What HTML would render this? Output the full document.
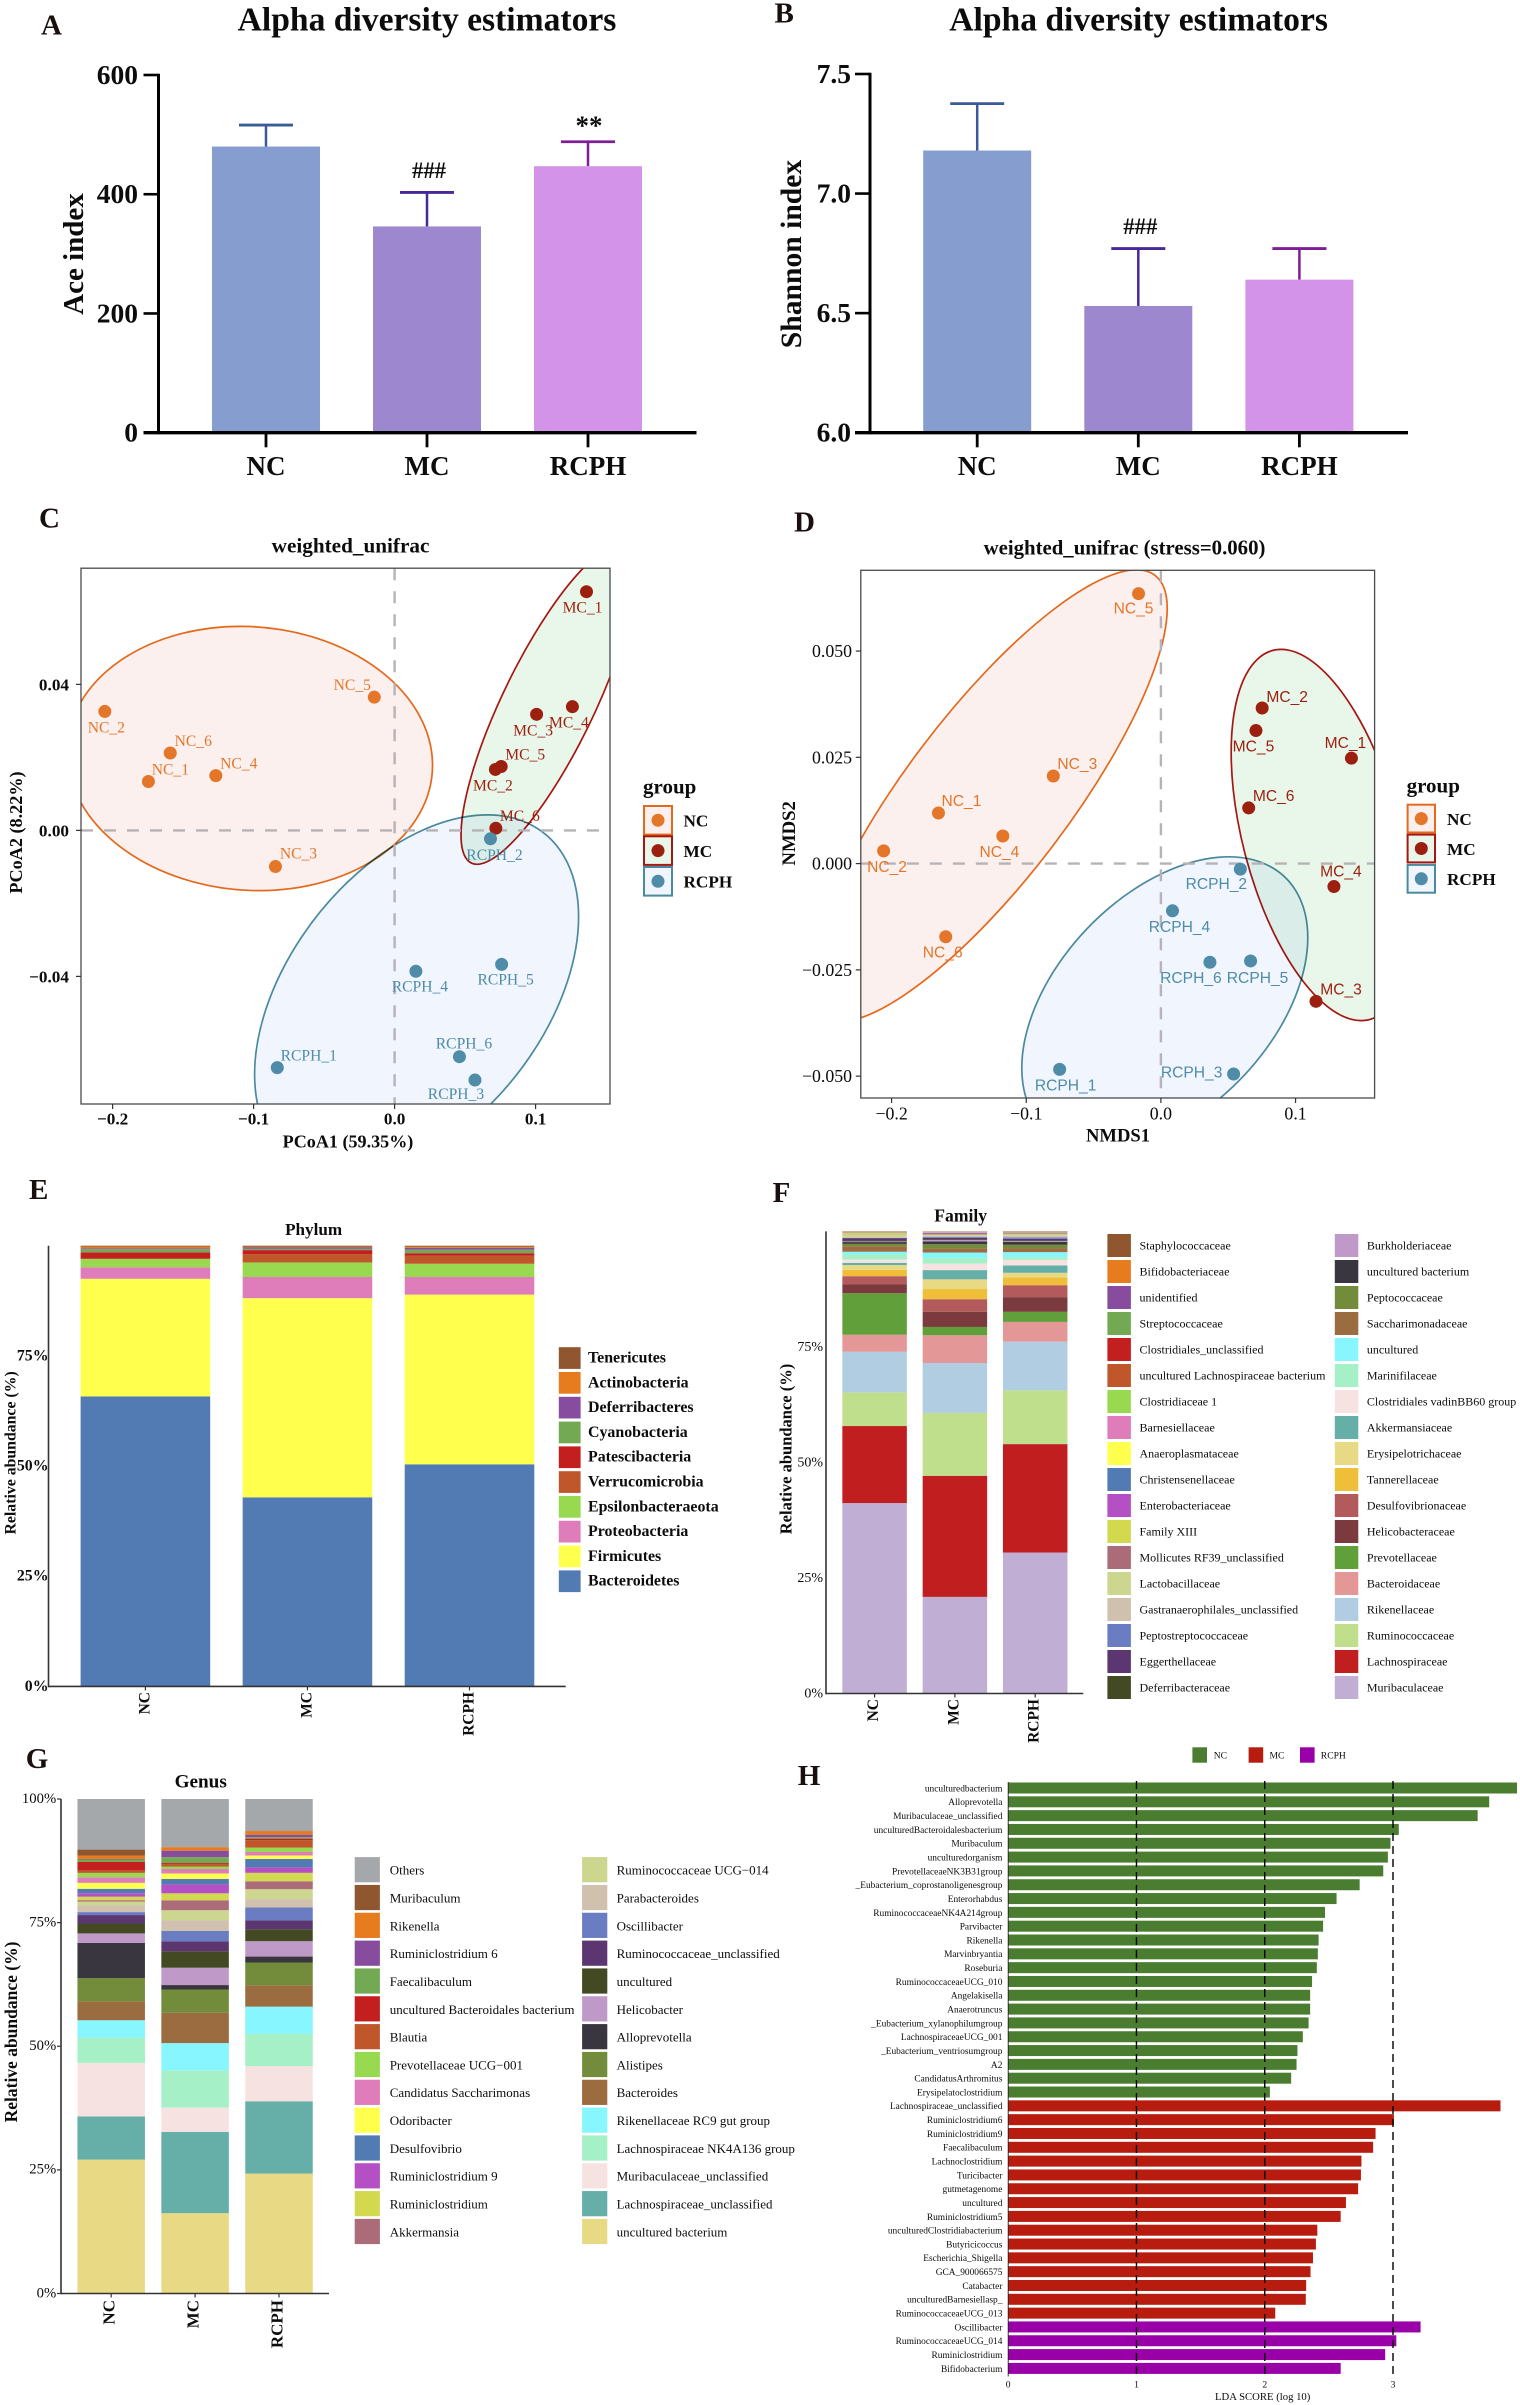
<!DOCTYPE html>
<html lang="en">
<head>
<meta charset="utf-8">
<title>Alpha diversity, beta diversity and taxonomic composition</title>
<style>
html,body{margin:0;padding:0;background:#fff;}
svg{display:block;background:#fff;}
text{font-family:"Liberation Serif",serif;fill:#0c0c0c;}
.b{font-weight:700;}
.sans{font-family:"Liberation Sans",sans-serif;}
.letter{font-weight:700;font-size:29px;fill:#1a0f0f;}
.mult{mix-blend-mode:multiply;}
</style>
</head>
<body>
<svg id="fig" xmlns="http://www.w3.org/2000/svg" width="1520" height="2405" viewBox="0 0 1520 2405">
<defs>
<clipPath id="clip-c"><rect x="81" y="568.2" width="529" height="535.8"/></clipPath>
<clipPath id="clip-d"><rect x="860.8" y="570.3" width="513.8" height="527.7"/></clipPath>
</defs>

<g id="panel-a">
<text class="letter" x="41" y="34.3">A</text>
<text class="b" x="427" y="30.7" font-size="33.6" text-anchor="middle">Alpha diversity estimators</text>
<text class="b" x="83" y="254" font-size="29" text-anchor="middle" transform="rotate(-90 83 254)">Ace index</text>
</g>
<g id="panel-b">
<text class="letter" x="774.5" y="22.7">B</text>
<text class="b" x="1138.6" y="30.7" font-size="33.6" text-anchor="middle">Alpha diversity estimators</text>
<text class="b" x="801" y="254" font-size="29.6" text-anchor="middle" transform="rotate(-90 801 254)">Shannon index</text>
</g>
<g id="panel-c">
<text class="letter" x="39" y="527.4">C</text>
<text class="b" x="350.5" y="552.6" font-size="21.2" text-anchor="middle">weighted_unifrac</text>
<text class="b" x="348" y="1147.3" font-size="18.1" text-anchor="middle">PCoA1 (59.35%)</text>
<text class="b" x="22" y="832.5" font-size="18.2" text-anchor="middle" transform="rotate(-90 22 832.5)">PCoA2 (8.22%)</text>
<text class="b" x="643" y="793.3" font-size="21">group</text>
</g>
<g id="panel-d">
<text class="letter" x="794" y="531.6">D</text>
<text class="b" x="1124.5" y="554.7" font-size="20.8" text-anchor="middle">weighted_unifrac (stress=0.060)</text>
<text class="b" x="1118" y="1141.4" font-size="18.6" text-anchor="middle">NMDS1</text>
<text class="b" x="795" y="833.3" font-size="18.7" text-anchor="middle" transform="rotate(-90 795 833.3)">NMDS2</text>
<text class="b" x="1406.6" y="792.5" font-size="21">group</text>
</g>
<g id="panel-e">
<text class="letter" x="29" y="1199">E</text>
<text class="b" x="313.6" y="1235" font-size="17.1" text-anchor="middle">Phylum</text>
<text class="b" x="15.5" y="1452.9" font-size="15.8" text-anchor="middle" transform="rotate(-90 15.5 1452.9)">Relative abundance (%)</text>
</g>
<g id="panel-f">
<text class="letter" x="772.6" y="1202">F</text>
<text class="b" x="960.7" y="1221.4" font-size="17.6" text-anchor="middle">Family</text>
<text class="b" x="791.5" y="1449" font-size="16.5" text-anchor="middle" transform="rotate(-90 791.5 1449)">Relative abundance (%)</text>
</g>
<g id="panel-g">
<text class="letter" x="25.7" y="1768">G</text>
<text class="b" x="200.7" y="1787.7" font-size="19.2" text-anchor="middle">Genus</text>
<text class="b" x="17" y="2032" font-size="17.5" text-anchor="middle" transform="rotate(-90 17 2032)">Relative abundance (%)</text>
</g>
<g id="panel-h">
<text class="letter" x="797.8" y="1785">H</text>
<text x="1262.7" y="2400" font-size="10.7" text-anchor="middle">LDA SCORE (log 10)</text>
</g>
</svg>

<script>
/* ---------- shared categories ---------- */
const groupNames = ['NC', 'MC', 'RCPH'];

/* ---------- panel A / B ---------- */
const aceMeans = [480, 346, 447];
const aceUpper = [516, 403, 488];
const aceTicks = [0, 200, 400, 600];
const aceMarks = ['', '###', '**'];
const shannonMeans = [7.18, 6.53, 6.64];
const shannonUpper = [7.376, 6.77, 6.77];
const shannonTicks = [6.0, 6.5, 7.0, 7.5];
const shannonMarks = ['', '###', ''];

/* ---------- panel C (PCoA) ---------- */
const sampleSuffix = ['1', '2', '3', '4', '5', '6'];
const pcoaXNC = [-0.1746, -0.2055, -0.0845, -0.1268, -0.0144, -0.1591];
const pcoaYNC = [0.0134, 0.0326, -0.0099, 0.0150, 0.0365, 0.0212];
const pcoaXMC = [0.1361, 0.0715, 0.1007, 0.1261, 0.0756, 0.0718];
const pcoaYMC = [0.0654, 0.0167, 0.0318, 0.0339, 0.0175, 0.0006];
const pcoaXRCPH = [-0.0832, 0.0680, 0.0570, 0.0151, 0.0759, 0.0460];
const pcoaYRCPH = [-0.0650, -0.0023, -0.0684, -0.0386, -0.0367, -0.0620];
const pcoaXTicks = [-0.2, -0.1, 0.0, 0.1];
const pcoaYTicks = [-0.04, 0.00, 0.04];
/* ellipse summary in data units: centre x, centre y, half-width, half-height, y-shift at right extreme */
const pcoaEllipseNC = [-0.1027, 0.0197, 0.1296, 0.0362, -0.00184];
const pcoaEllipseMC = [0.1088, 0.03436, 0.0617, 0.04364, 0.0356];
const pcoaEllipseRCPH = [0.0156, -0.04525, 0.1149, 0.0495, 0.0216];

/* ---------- panel D (NMDS) ---------- */
const nmdsXNC = [-0.1652, -0.2059, -0.0799, -0.1174, -0.0166, -0.1598];
const nmdsYNC = [0.0119, 0.0030, 0.0206, 0.0065, 0.0635, -0.0172];
const nmdsXMC = [0.1415, 0.0752, 0.1152, 0.1285, 0.0706, 0.0652];
const nmdsYMC = [0.0248, 0.0366, -0.0324, -0.0054, 0.0313, 0.0131];
const nmdsXRCPH = [-0.0752, 0.0590, 0.0540, 0.0086, 0.0666, 0.0364];
const nmdsYRCPH = [-0.0484, -0.0013, -0.0495, -0.0111, -0.0229, -0.0232];
const nmdsXTicks = [-0.2, -0.1, 0.0, 0.1];
const nmdsYTicks = [-0.050, -0.025, 0.000, 0.025, 0.050];
const nmdsEllipseNC = [-0.1285, 0.01594, 0.1332, 0.05317, 0.04406];
const nmdsEllipseMC = [0.119, 0.00673, 0.0668, 0.04366, -0.0194];
const nmdsEllipseRCPH = [0.00288, -0.03277, 0.1062, 0.03436, 0.01535];

/* ---------- panel E (phylum), stack order bottom to top ---------- */
const phylumNames = ['Bacteroidetes','Firmicutes','Proteobacteria','Epsilonbacteraeota','Verrucomicrobia','Patescibacteria','Cyanobacteria','Deferribacteres','Actinobacteria','Tenericutes'];
const phylumNC = [65.8, 26.7, 2.6, 1.9, 0.1, 1.4, 0.7, 0.2, 0.4, 0.2];
const phylumMC = [42.9, 45.2, 4.8, 3.3, 1.9, 0.9, 0.3, 0.3, 0.15, 0.25];
const phylumRCPH = [50.4, 38.5, 4.0, 3.0, 1.8, 0.6, 0.8, 0.4, 0.25, 0.25];
const stackTicks = ['0%', '25%', '50%', '75%', '100%'];
const stackTickValues = [0, 25, 50, 75, 100];

/* ---------- panel F (family), stack order bottom to top ---------- */
const familyNames = ['Muribaculaceae','Lachnospiraceae','Ruminococcaceae','Rikenellaceae','Bacteroidaceae','Prevotellaceae','Helicobacteraceae','Desulfovibrionaceae','Tannerellaceae','Erysipelotrichaceae','Akkermansiaceae','Clostridiales vadinBB60 group','Marinifilaceae','uncultured','Saccharimonadaceae','Peptococcaceae','uncultured bacterium','Burkholderiaceae','Deferribacteraceae','Eggerthellaceae','Peptostreptococcaceae','Gastranaerophilales_unclassified','Lactobacillaceae','Mollicutes RF39_unclassified','Family XIII','Enterobacteriaceae','Christensenellaceae','Anaeroplasmataceae','Barnesiellaceae','Clostridiaceae 1','uncultured Lachnospiraceae bacterium','Clostridiales_unclassified','Streptococcaceae','unidentified','Bifidobacteriaceae','Staphylococcaceae'];
const familyNC = [41.3,16.7,7.3,8.8,3.7,9.0,1.9,1.8,1.4,1.0,0.5,0.7,1.1,0.6,1.2,0.5,0.4,0.15,0.2,0.5,0.05,0.2,0.5,0.05,0.3,0.05,0.05,0.02,0.02,0.02,0.02,0.02,0.02,0.02,0.02,0.1];
const familyMC = [20.9,26.2,13.6,10.8,6.0,1.8,3.3,2.7,2.2,2.1,2.0,1.4,1.2,1.2,0.9,0.9,0.6,0.3,0.15,0.3,0.2,0.3,0.15,0.1,0.1,0.2,0.1,0.05,0.05,0.02,0.02,0.02,0.02,0.02,0.02,0.05];
const familyRCPH = [30.7,23.6,11.7,10.6,4.3,2.2,3.2,2.6,1.7,1.0,1.6,1.2,0.6,1.1,0.8,0.8,0.6,0.2,0.2,0.3,0.3,0.35,0.35,0.15,0.1,0.05,0.05,0.02,0.02,0.02,0.02,0.02,0.02,0.02,0.02,0.1];

/* ---------- panel G (genus), stack order bottom to top ---------- */
const genusNames = ['uncultured bacterium','Lachnospiraceae_unclassified','Muribaculaceae_unclassified','Lachnospiraceae NK4A136 group','Rikenellaceae RC9 gut group','Bacteroides','Alistipes','Alloprevotella','Helicobacter','uncultured','Ruminococcaceae_unclassified','Oscillibacter','Parabacteroides','Ruminococcaceae UCG\u2212014','Akkermansia','Ruminiclostridium','Ruminiclostridium 9','Desulfovibrio','Odoribacter','Candidatus Saccharimonas','Prevotellaceae UCG\u2212001','Blautia','uncultured Bacteroidales bacterium','Faecalibaculum','Ruminiclostridium 6','Rikenella','Muribaculum','Others'];
const genusNC = [27.0,8.7,10.8,5.1,3.5,3.8,4.7,7.1,1.9,2.0,1.7,0.6,1.4,0.7,0.3,0.7,0.7,0.9,1.2,1.1,0.9,0.5,1.7,0.5,0.1,0.7,1.2,10.2];
const genusMC = [16.2,16.4,4.9,7.5,5.5,6.1,4.7,0.9,3.5,3.3,2.0,2.1,2.2,2.0,2.0,1.4,1.8,1.1,1.1,0.9,0.5,0.5,0.2,1.2,1.3,0.7,0.02,9.7];
const genusRCPH = [24.2,14.6,7.1,6.5,5.5,4.3,4.6,1.2,3.1,2.4,1.8,2.6,1.7,2.0,1.6,1.7,1.1,1.7,0.7,0.7,0.9,1.5,0.3,0.3,0.5,0.7,0.1,6.4];

/* ---------- panel H (LDA) ---------- */
const ldaNamesNC = ['unculturedbacterium','Alloprevotella','Muribaculaceae_unclassified','unculturedBacteroidalesbacterium','Muribaculum','unculturedorganism','PrevotellaceaeNK3B31group','_Eubacterium_coprostanoligenesgroup','Enterorhabdus','RuminococcaceaeNK4A214group','Parvibacter','Rikenella','Marvinbryantia','Roseburia','RuminococcaceaeUCG_010','Angelakisella','Anaerotruncus','_Eubacterium_xylanophilumgroup','LachnospiraceaeUCG_001','_Eubacterium_ventriosumgroup','A2','CandidatusArthromitus','Erysipelatoclostridium'];
const ldaScoresNC = [3.967,3.75,3.66,3.045,2.98,2.96,2.924,2.74,2.56,2.47,2.455,2.42,2.414,2.406,2.369,2.354,2.354,2.342,2.297,2.255,2.248,2.206,2.04];
const ldaNamesMC = ['Lachnospiraceae_unclassified','Ruminiclostridium6','Ruminiclostridium9','Faecalibaculum','Lachnoclostridium','Turicibacter','gutmetagenome','uncultured','Ruminiclostridium5','unculturedClostridiabacterium','Butyricicoccus','Escherichia_Shigella','GCA_900066575','Catabacter','unculturedBarnesiellasp_','RuminococcaceaeUCG_013'];
const ldaScoresMC = [3.838,3.007,2.864,2.845,2.754,2.75,2.728,2.633,2.592,2.41,2.399,2.376,2.357,2.323,2.32,2.082];
const ldaNamesRCPH = ['Oscillibacter','RuminococcaceaeUCG_014','Ruminiclostridium','Bifidobacterium'];
const ldaScoresRCPH = [3.215,3.026,2.939,2.592];
const ldaTicks = [0, 1, 2, 3];

/* ---------- styling (not data) ---------- */
const barFill = ['#859ecf', '#9d87ce', '#d293e8'];
const errColor = ['#3a5a9a', '#46289b', '#7f1d96'];
const pointColor = ['#e4762a', '#9c2010', '#4e8ca8'];
const ringColor = ['#e4691c', '#a51812', '#4a8a9f'];
const ringFill = ['#fbf0ee', '#e9f7ea', '#f0f5fe'];
const phylumColors = ['#527bb3','#ffff4d','#df7cba','#98d94f','#bf572b','#c41f1f','#73a953','#874c9d','#e67c1e','#8f5630'];
const familyColors = ['#c0aed4','#c11f1f','#bfdf8c','#b0cde2','#e49797','#619f3a','#7b3a3d','#b25a5c','#f0bf3a','#e8da85','#66afa8','#f6e3e1','#a5f0c6','#88f6ff','#9b6c3f','#728c3c','#393640','#bf9ac9','#434923','#5b3670','#6a7cc2','#d0c0ae','#cdd68e','#ab6b78','#d3d94f','#b44fc4','#527bb3','#ffff4d','#df7cba','#98d94f','#bf572b','#c41f1f','#73a953','#874c9d','#e67c1e','#8f5630'];
const genusColors = ['#e8da85','#66afa8','#f6e3e1','#a5f0c6','#88f6ff','#9b6c3f','#728c3c','#393640','#bf9ac9','#434923','#5b3670','#6a7cc2','#d0c0ae','#cdd68e','#ab6b78','#d3d94f','#b44fc4','#527bb3','#ffff4d','#df7cba','#98d94f','#bf572b','#c41f1f','#73a953','#874c9d','#e67c1e','#8f5630','#a5a8ab'];
const ldaColors = ['#4a7d2f', '#b71c0f', '#9a00a8'];
/* label placement relative to each point (dx, dy), sample 1..6 */
const nudgeC = [
  [[22,-7],[1.5,21],[23,-8],[23,-7],[-22,-7],[23,-7]],
  [[-4,21],[-2.5,21],[-3.5,21],[-3.5,21],[24,-7],[24,-7]],
  [[31.5,-7],[4,21],[-19,19],[4,20],[4,20],[4.5,-8]]
];
const nudgeD = [
  [[23,-7],[3.4,21],[24,-7],[-3.4,21],[-5,20],[-3,21]],
  [[-6,-10],[25,-6],[25,-7],[7,-10],[-2.5,21],[25,-7]],
  [[6,21],[-24,20],[-42,3.5],[7,21],[7,22],[-19,21]]
];

/* ---------- helpers ---------- */
const NS = 'http://www.w3.org/2000/svg';
function linear(d0, d1, r0, r1) {
  return function (v) { return r0 + (v - d0) * (r1 - r0) / (d1 - d0); };
}
function make(parent, tag, attrs, name) {
  const el = document.createElementNS(NS, tag);
  for (const k in attrs) el.setAttribute(k, attrs[k]);
  
  
  parent.appendChild(el);
  return el;
}
function label(parent, str, attrs, name) {
  const el = make(parent, 'text', attrs, name);
  el.textContent = str;
  return el;
}
function line(parent, x1, y1, x2, y2, stroke, width, name, dash) {
  const a = { x1: x1, y1: y1, x2: x2, y2: y2, stroke: stroke, 'stroke-width': width };
  if (dash) a['stroke-dasharray'] = dash;
  return make(parent, 'line', a, name);
}
function rect(parent, x, y, w, h, fill, name) {
  return make(parent, 'rect', { x: x, y: y, width: w, height: h, fill: fill }, name);
}
function panel(id) { return document.getElementById(id); }

/* ---------- bar charts A / B ---------- */
function drawBars(g, means, upper, ticks, marks, tickFmt, yScale, xCenter, axisX, axisRight, labelRight) {
  const base = yScale(ticks[0]);
  for (let i = 0; i < means.length; i++) {
    const cx = xCenter(i), top = yScale(means[i]), errTop = yScale(upper[i]);
    line(g, cx, top, cx, errTop, errColor[i], 2.5, 'error-bar-stem-' + groupNames[i].toLowerCase());
    line(g, cx - 27, errTop, cx + 27, errTop, errColor[i], 2.8, 'error-bar-cap-' + groupNames[i].toLowerCase());
    rect(g, cx - 54, top, 108, base - top, barFill[i], 'bar-' + groupNames[i].toLowerCase());
    line(g, cx, base, cx, base + 14.6, '#000', 2.8, 'x-tick');
    label(g, groupNames[i], { x: cx, y: 475, 'font-size': 27, 'text-anchor': 'middle', class: 'b' }, 'x-tick-label');
    if (marks[i]) {
      const isHash = marks[i][0] === '#';
      label(g, marks[i], { x: cx + (isHash ? 2 : 1), y: errTop - (isHash ? 14.5 : 7.3), 'font-size': isHash ? 22.7 : 27, 'text-anchor': 'middle', class: 'b' }, 'significance-mark');
    }
  }
  line(g, axisX, yScale(ticks[ticks.length - 1]) - 1.3, axisX, base + 1.5, '#000', 3, 'y-axis-line');
  line(g, axisX - 15, base, axisRight, base, '#000', 3.3, 'x-axis-line');
  for (const t of ticks) {
    line(g, axisX - 15, yScale(t), axisX, yScale(t), '#000', 2.6, 'y-tick');
    label(g, tickFmt(t), { x: labelRight, y: yScale(t) + 9, 'font-size': 27.5, 'text-anchor': 'end', class: 'b' }, 'y-tick-label');
  }
}
const aceY = linear(0, 600, 432.7, 75);
const aceX = linear(0, 2, 266, 588);
drawBars(panel('panel-a'), aceMeans, aceUpper, aceTicks, aceMarks, function (t) { return String(t); }, aceY, aceX, 158.5, 696.5, 138);
const shanY = linear(6, 7.5, 432.7, 74);
const shanX = linear(0, 2, 977.2, 1299.4);
drawBars(panel('panel-b'), shannonMeans, shannonUpper, shannonTicks, shannonMarks, function (t) { return t.toFixed(1); }, shanY, shanX, 870, 1408, 851);

/* ---------- scatter charts C / D ---------- */
function drawEllipse(g, e, xs, ys, i, clipId) {
  const cx = xs(e[0]), cy = ys(e[1]);
  const a = xs(e[0] + e[2]) - cx;
  const t = ys(e[1] + e[4]) - cy;
  const r = Math.abs(ys(e[1] + e[3]) - cy);
  const d = Math.sqrt(Math.max(r * r - t * t, 1));
  const el = make(g, 'ellipse', {
    cx: 0, cy: 0, rx: 1, ry: 1,
    transform: 'matrix(' + a + ' ' + t + ' 0 ' + d + ' ' + cx + ' ' + cy + ')',
    fill: ringFill[i], stroke: ringColor[i], 'stroke-width': 1.7,
    'vector-effect': 'non-scaling-stroke', class: 'mult'
  }, 'ellipse-' + groupNames[i].toLowerCase());
  return el;
}
function drawScatter(opts) {
  const g = opts.g, xs = opts.xs, ys = opts.ys, box = opts.box;
  const clip = make(g, 'g', { 'clip-path': 'url(#' + opts.clip + ')' }, 'plot-area');
  for (let i = 0; i < 3; i++) drawEllipse(clip, opts.ellipses[i], xs, ys, i);
  line(clip, box[0], ys(0), box[2], ys(0), '#b7b2b6', 2.4, 'zero-line-horizontal', '12 11');
  line(clip, xs(0), box[1], xs(0), box[3], '#b7b2b6', 2.4, 'zero-line-vertical', '12 11');
  make(g, 'rect', { x: box[0], y: box[1], width: box[2] - box[0], height: box[3] - box[1], fill: 'none', stroke: '#4a4a4a', 'stroke-width': 1.3 }, 'plot-border');
  for (let i = 0; i < 3; i++) {
    for (let j = 0; j < 6; j++) {
      const px = xs(opts.xVals[i][j]), py = ys(opts.yVals[i][j]);
      make(g, 'circle', { cx: px, cy: py, r: 6.5, fill: pointColor[i] }, 'point-' + groupNames[i].toLowerCase());
      const nudge = opts.nudge[i][j];
      const a = { x: px + nudge[0], y: py + nudge[1], 'font-size': 15.6, 'text-anchor': 'middle', style: 'fill:' + pointColor[i] };
      if (opts.sansLabels) a.class = 'sans';
      label(g, groupNames[i] + '_' + sampleSuffix[j], a, 'point-label');
    }
  }
  for (const t of opts.xTicks) {
    line(g, xs(t), box[3], xs(t), box[3] + 5, '#333', 1.2, 'x-tick');
    label(g, (t < 0 ? '\u2212' : '') + Math.abs(t).toFixed(1), { x: xs(t), y: opts.xLabelY, 'font-size': opts.tickSize, 'text-anchor': 'middle', class: opts.tickClass }, 'x-tick-label');
  }
  for (const t of opts.yTicks) {
    line(g, box[0] - 5, ys(t), box[0], ys(t), '#333', 1.2, 'y-tick');
    label(g, (t < 0 ? '\u2212' : '') + Math.abs(t).toFixed(opts.yDigits), { x: opts.yLabelX, y: ys(t) + 6, 'font-size': opts.tickSize, 'text-anchor': 'end', class: opts.tickClass }, 'y-tick-label');
  }
  const lg = opts.legend;
  for (let i = 0; i < 3; i++) {
    make(g, 'rect', { x: lg.boxX, y: lg.boxY[i], width: lg.boxW, height: lg.boxH, fill: ringFill[i], stroke: ringColor[i], 'stroke-width': 2 }, 'legend-key-' + groupNames[i].toLowerCase());
    make(g, 'circle', { cx: lg.boxX + lg.boxW / 2, cy: lg.boxY[i] + lg.boxH / 2, r: 6.5, fill: pointColor[i] }, 'legend-point');
    label(g, groupNames[i], { x: lg.textX, y: lg.boxY[i] + lg.boxH / 2 + 6.4, 'font-size': 17.2, class: 'b' }, 'legend-label');
  }
}
drawScatter({
  g: panel('panel-c'), clip: 'clip-c',
  xs: linear(0, 0.1, 394.6, 535.6), ys: linear(0, 0.04, 830.4, 684.4),
  box: [81, 568.2, 610, 1104],
  ellipses: [pcoaEllipseNC, pcoaEllipseMC, pcoaEllipseRCPH],
  xVals: [pcoaXNC, pcoaXMC, pcoaXRCPH], yVals: [pcoaYNC, pcoaYMC, pcoaYRCPH],
  nudge: nudgeC, sansLabels: false,
  xTicks: pcoaXTicks, yTicks: pcoaYTicks, yDigits: 2,
  tickSize: 17.2, tickClass: 'b', xLabelY: 1124.6, yLabelX: 69,
  legend: { boxX: 644, boxY: [806, 836.3, 867], boxW: 28, boxH: 28.6, textX: 683.5 }
});
drawScatter({
  g: panel('panel-d'), clip: 'clip-d',
  xs: linear(0, 0.1, 1160.9, 1295.55), ys: linear(0, 0.05, 863.6, 651.05),
  box: [860.8, 570.3, 1374.6, 1098],
  ellipses: [nmdsEllipseNC, nmdsEllipseMC, nmdsEllipseRCPH],
  xVals: [nmdsXNC, nmdsXMC, nmdsXRCPH], yVals: [nmdsYNC, nmdsYMC, nmdsYRCPH],
  nudge: nudgeD, sansLabels: true,
  xTicks: nmdsXTicks, yTicks: nmdsYTicks, yDigits: 3,
  tickSize: 17.8, tickClass: '', xLabelY: 1119.5, yLabelX: 852,
  legend: { boxX: 1407.6, boxY: [804.7, 834.6, 864.9], boxW: 27.4, boxH: 27.8, textX: 1447 }
});

/* ---------- stacked charts E / F / G ---------- */
function drawStack(opts) {
  const g = opts.g, ys = opts.ys, xs = opts.xs, w = opts.barW;
  for (let b = 0; b < opts.rows.length; b++) {
    const row = opts.rows[b];
    let total = 0;
    for (const v of row) total += v;
    let cum = 0;
    for (let s = 0; s < row.length; s++) {
      const y0 = ys(cum * 100 / total);
      cum += row[s];
      const y1 = ys(cum * 100 / total);
      rect(g, xs(b) - w / 2, y1, w, y0 - y1, opts.colors[s], 'segment-' + opts.names[s].toLowerCase().replace(/[^a-z0-9]+/g, '-'));
    }
  }
  line(g, opts.axisX, ys(100), opts.axisX, ys(0) + 0.8, '#333', 1.6, 'y-axis-line');
  line(g, opts.axisX, ys(0), opts.axisRight, ys(0), '#333', 1.6, 'x-axis-line');
  for (let i = 0; i < stackTicks.length; i++) {
    if (stackTicks[i] === '100%' && !opts.showTop) continue;
    if (opts.yTickLen) line(g, opts.axisX - opts.yTickLen, ys(stackTickValues[i]), opts.axisX, ys(stackTickValues[i]), '#333', 1.2, 'y-tick');
    label(g, stackTicks[i], { x: opts.labelRight, y: ys(stackTickValues[i]) + opts.tickDy, 'font-size': opts.tickSize, 'text-anchor': 'end', class: opts.tickClass }, 'y-tick-label');
  }
  for (let b = 0; b < groupNames.length; b++) {
    line(g, xs(b), ys(0), xs(b), ys(0) + 4, '#333', 1.2, 'x-tick');
    const lx = xs(b) + opts.xLabelShift, ly = opts.xLabelTop;
    label(g, groupNames[b], { x: lx, y: ly, 'font-size': opts.xLabelSize, 'text-anchor': 'end', class: 'b', transform: 'rotate(-90 ' + lx + ' ' + ly + ')' }, 'x-tick-label');
  }
  const lg = opts.legend;
  const n = opts.names.length;
  for (let k = 0; k < n; k++) {
    const idx = n - 1 - k;
    const col = Math.floor(k / lg.perCol);
    const row = k % lg.perCol;
    const top = lg.top + row * lg.step;
    make(g, 'rect', { x: lg.swatchX[col], y: top, width: lg.swatchW, height: lg.swatchH, fill: opts.colors[idx], stroke: '#fff', 'stroke-width': 0.8 }, 'legend-swatch');
    label(g, opts.names[idx], { x: lg.textX[col], y: top + lg.textDy, 'font-size': lg.size, class: lg.cls }, 'legend-entry');
  }
}
drawStack({
  g: panel('panel-e'), names: phylumNames, colors: phylumColors,
  rows: [phylumNC, phylumMC, phylumRCPH],
  ys: linear(0, 100, 1686.4, 1245.7), xs: linear(0, 2, 145.4, 469.5), barW: 129.6,
  axisX: 48.5, axisRight: 565.7, labelRight: 48.5, tickSize: 15.8, tickDy: 4.5, tickClass: 'b', showTop: false, yTickLen: 0,
  xLabelShift: 4, xLabelTop: 1692, xLabelSize: 15.5,
  legend: { perCol: 10, top: 1346.8, step: 24.8, swatchX: [558.4], swatchW: 22.6, swatchH: 22.5, textX: [588], textDy: 15.7, size: 15.9, cls: 'b' }
});
drawStack({
  g: panel('panel-f'), names: familyNames, colors: familyColors,
  rows: [familyNC, familyMC, familyRCPH],
  ys: linear(0, 100, 1693.5, 1231.4), xs: linear(0, 2, 874.6, 1035.2), barW: 64.5,
  axisX: 826, axisRight: 1083.3, labelRight: 823, tickSize: 14, tickDy: 4, tickClass: '', showTop: false, yTickLen: 0,
  xLabelShift: 3.5, xLabelTop: 1699, xLabelSize: 15.5,
  legend: { perCol: 18, top: 1233.6, step: 26.0, swatchX: [1107, 1334.4], swatchW: 24.3, swatchH: 23.8, textX: [1139.5, 1366.9], textDy: 15.9, size: 12, cls: '' }
});
drawStack({
  g: panel('panel-g'), names: genusNames, colors: genusColors,
  rows: [genusNC, genusMC, genusRCPH],
  ys: linear(0, 100, 2293.5, 1799), xs: linear(0, 2, 111.2, 279), barW: 67.5,
  axisX: 61, axisRight: 329, labelRight: 56.2, tickSize: 14.7, tickDy: 3.8, tickClass: '', showTop: true, yTickLen: 4,
  xLabelShift: 3.5, xLabelTop: 2300, xLabelSize: 17,
  legend: { perCol: 14, top: 1856.7, step: 27.83, swatchX: [354.3, 581.7], swatchW: 26, swatchH: 26, textX: [389.7, 616.6], textDy: 17.9, size: 13, cls: '' }
});

/* ---------- LDA chart H ---------- */
(function () {
  const g = panel('panel-h');
  const xs = linear(0, 3, 1008.2, 1393);
  const rowY = linear(0, 42, 1788, 2368.4);
  const allNames = ldaNamesNC.concat(ldaNamesMC, ldaNamesRCPH);
  const allScores = ldaScoresNC.concat(ldaScoresMC, ldaScoresRCPH);
  for (let i = 0; i < allNames.length; i++) {
    const grp = i < ldaNamesNC.length ? 0 : (i < ldaNamesNC.length + ldaNamesMC.length ? 1 : 2);
    const y = rowY(i);
    rect(g, xs(0), y - 5.5, xs(allScores[i]) - xs(0), 11, ldaColors[grp], 'lda-bar-' + groupNames[grp].toLowerCase());
    label(g, allNames[i], { x: 1002.4, y: y + 3.4, 'font-size': 9.4, 'text-anchor': 'end' }, 'lda-bar-label');
  }
  line(g, xs(0), rowY(0) - 6, xs(0), rowY(42) + 8, '#222', 0.9, 'y-axis-line');
  for (const t of ldaTicks) {
    if (t > 0) line(g, xs(t), rowY(0) - 7, xs(t), rowY(42) + 8, '#000', 1.4, 'reference-line', '8 5');
    label(g, String(t), { x: xs(t), y: 2387.3, 'font-size': 9.6, 'text-anchor': 'middle' }, 'x-tick-label');
  }
  const keyX = [1192.4, 1248.6, 1300];
  const keyText = [1213.7, 1269.5, 1320.8];
  for (let i = 0; i < 3; i++) {
    rect(g, keyX[i], 1747.3, 14.6, 15.4, ldaColors[i], 'legend-swatch-' + groupNames[i].toLowerCase());
    label(g, groupNames[i], { x: keyText[i], y: 1758.3, 'font-size': 9.6 }, 'legend-entry');
  }
})();
</script>
</body>
</html>
